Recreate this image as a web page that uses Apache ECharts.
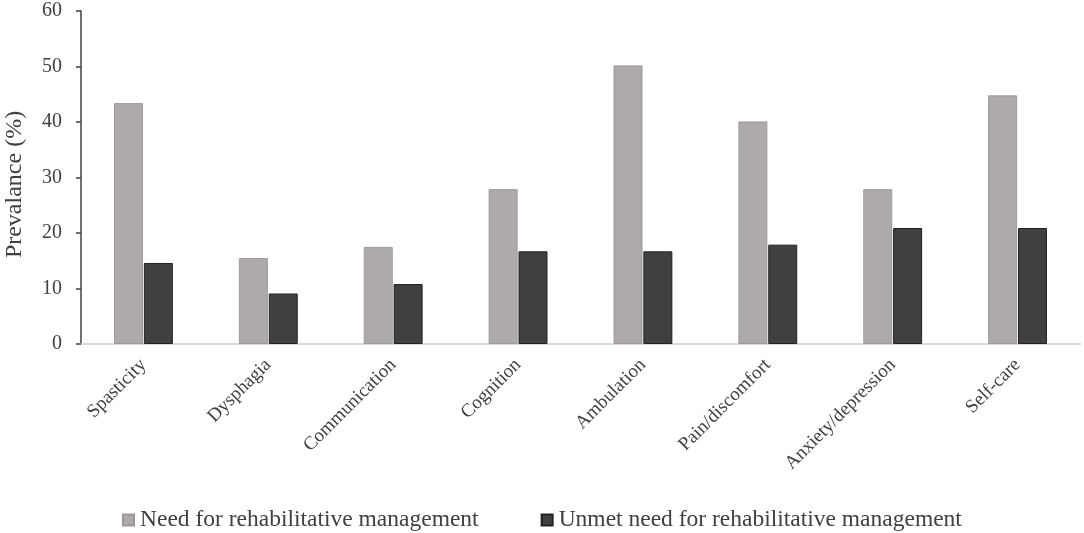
<!DOCTYPE html>
<html>
<head>
<meta charset="utf-8">
<script src="https://cdn.jsdelivr.net/npm/echarts@6/dist/echarts.min.js"></script>
<style>html,body{margin:0;padding:0;background:#fff}#c{width:1084px;height:533px}</style>
</head>
<body>
<div id="c"></div>
<script>
const categories = ['Spasticity','Dysphagia','Communication','Cognition','Ambulation','Pain/discomfort','Anxiety/depression','Self-care'];
const needValues = [43.4, 15.5, 17.5, 27.9, 50.2, 40.1, 27.9, 44.8];
const unmetValues = [14.6, 9.1, 10.8, 16.7, 16.7, 17.9, 20.9, 20.9];
const seriesNames = ['Need for rehabilitative management','Unmet need for rehabilitative management'];
const yTicks = {min: 0, max: 60, interval: 10};

const font = '"Liberation Serif","Times New Roman",serif';
const chart = echarts.init(document.getElementById('c'), null, {renderer: 'canvas'});
chart.setOption({
  animation: false,
  backgroundColor: '#fff',
  grid: {left: 81, right: 4, top: 11, bottom: 189, containLabel: false, outerBoundsMode: 'none'},
  legend: {
    top: 503, left: 117,
    itemWidth: 11, itemHeight: 11, itemGap: 62,
    icon: 'rect',
    textStyle: {fontFamily: font, fontSize: 23.5, color: '#404040', padding: [0,0,0,1]},
    data: seriesNames
  },
  xAxis: {
    type: 'category',
    data: categories,
    axisLine: {lineStyle: {color: '#d9d9d9', width: 2}},
    axisTick: {show: false},
    axisLabel: {rotate: 45, interval: 0, margin: 18, fontFamily: font, fontSize: 19, color: '#404040'}
  },
  yAxis: {
    type: 'value',
    min: yTicks.min, max: yTicks.max, interval: yTicks.interval,
    name: 'Prevalance (%)',
    nameLocation: 'middle',
    nameGap: 54,
    nameTextStyle: {fontFamily: font, fontSize: 24, color: '#404040', padding: [0, 14, 0, 0]},
    axisLine: {show: true, lineStyle: {color: '#404040', width: 1.5}},
    axisTick: {show: true, length: 5, lineStyle: {color: '#404040', width: 1.5}},
    splitLine: {show: false},
    axisLabel: {margin: 19, fontFamily: font, fontSize: 20, color: '#404040'}
  },
  series: [
    {name: seriesNames[0], type: 'bar', data: needValues, barWidth: 29, barGap: '3%',
     itemStyle: {color: '#aeaaaa', borderColor: '#9e9a9a', borderWidth: 1}},
    {name: seriesNames[1], type: 'bar', data: unmetValues, barWidth: 29,
     itemStyle: {color: '#404040', borderColor: '#222', borderWidth: 1}}
  ]
});
</script>
</body>
</html>
